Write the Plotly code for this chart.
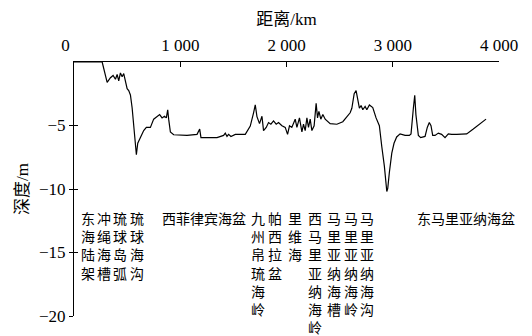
import plotly.graph_objects as go

# Seabed depth profile along the section (distance in km, depth in m)
dist_km = [0, 265, 312, 343, 368, 390, 406, 421, 437, 453, 468, 484, 500, 515, 531, 547, 562, 587,
           600, 625, 656, 681, 719, 750, 782, 806, 829, 851, 869, 882, 891, 907, 938, 1064, 1158,
           1183, 1195, 1252, 1346, 1408, 1424, 1440, 1455, 1477, 1518, 1612, 1659, 1690, 1706,
           1722, 1746, 1769, 1784, 1809, 1831, 1853, 1878, 1903, 1925, 1957, 1988, 2010, 2028,
           2050, 2082, 2098, 2122, 2145, 2160, 2176, 2192, 2207, 2223, 2239, 2260, 2279, 2292,
           2305, 2323, 2342, 2364, 2411, 2474, 2530, 2568, 2599, 2615, 2637, 2655, 2671, 2686,
           2702, 2718, 2740, 2756, 2780, 2812, 2843, 2874, 2897, 2921, 2944, 2953, 2968, 2991,
           3012, 3037, 3069, 3116, 3156, 3172, 3194, 3207, 3218, 3241, 3263, 3304, 3325, 3344,
           3360, 3376, 3398, 3429, 3460, 3492, 3523, 3554, 3602, 3696, 3758, 3821, 3878]
depth_m = [0, 0, -1.6, -1.24, -1.06, -1.36, -0.98, -1.49, -0.86, -1.16, -0.91, -1.6, -2.1, -2.25,
           -2.6, -3.6, -5.15, -7.3, -6.4, -5.9, -5.4, -5.15, -5.15, -4.5, -4.27, -4.14, -4.4,
           -4.27, -4.4, -3.76, -4.5, -5.5, -5.73, -5.78, -5.7, -5.28, -5.96, -5.96, -5.96, -5.78,
           -5.6, -5.86, -5.7, -5.86, -5.7, -5.7, -5.05, -4.0, -3.38, -4.3, -4.85, -4.27, -5.4,
           -5.15, -4.77, -4.9, -4.64, -4.9, -4.77, -5.02, -5.15, -5.7, -5.02, -5.15, -4.5, -5.15,
           -4.4, -5.5, -4.9, -5.4, -4.4, -5.15, -4.5, -5.4, -5.02, -3.26, -4.4, -3.89, -4.5,
           -4.14, -4.5, -4.85, -4.9, -4.7, -4.27, -4.0, -3.64, -2.5, -2.25, -2.88, -3.64, -3.43,
           -3.76, -3.5, -3.76, -3.38, -3.59, -4.4, -5.02, -6.67, -8.2, -10.2, -9.95, -8.7, -7.17,
           -6.4, -5.9, -5.66, -5.78, -5.78, -5.66, -3.64, -2.63, -4.14, -5.78, -5.96, -5.86,
           -5.15, -4.77, -5.02, -5.78, -5.78, -5.6, -5.7, -5.96, -5.66, -5.7, -5.7, -5.66, -5.28,
           -4.9, -4.5]

x_ticks = [0, 1000, 2000, 3000, 4000]
# the "0" label sits a little left of its tick, padded with no-break spaces
x_tick_text = ["0\u00a0\u00a0\u00a0\u00a0", "1 000", "2 000", "3 000", "4 000"]
y_ticks = [-20, -15, -10, -5]

# Feature names along the section; vertical names are stacked one character per line
feature_names = ["东海陆架", "冲绳海槽", "琉球岛弧", "琉球海沟", "西菲律宾海盆", "九州帛琉海岭",
                 "帕西拉盆", "里维海", "西马里亚纳海岭", "马里亚纳海槽", "马里亚纳海岭",
                 "马里亚纳海沟", "东马里亚纳海盆"]
feature_vertical = [True, True, True, True, False, True, True, True, True, True, True, True, False]
feature_km = [132, 282, 433, 593, 1219, 1732, 1892, 2080, 2268, 2447, 2607, 2758, 3694]

SERIF = "'Liberation Serif', 'DejaVu Serif', 'Noto Sans CJK SC', serif"
CJK = "'Noto Sans CJK SC'"

fig = go.Figure()
fig.add_trace(go.Scatter(x=dist_km, y=depth_m, mode="lines",
                         line=dict(color="black", width=1.2), hoverinfo="skip"))
# same series on a twin axis so the depth axis gets ticks on both sides of its line
fig.add_trace(go.Scatter(x=dist_km, y=depth_m, mode="lines", yaxis="y2", opacity=0,
                         line=dict(color="black", width=1), hoverinfo="skip"))

for name, vert, km in zip(feature_names, feature_vertical, feature_km):
    fig.add_annotation(x=km, y=-11.3, xref="x", yref="y",
                       text="<br>".join(name) if vert else name,
                       showarrow=False, xanchor="center", yanchor="top",
                       font=dict(family=CJK, size=14, color="black"), align="center")

fig.update_layout(
    width=532, height=336,
    margin=dict(l=74, r=33, t=62, b=10),
    paper_bgcolor="white", plot_bgcolor="white",
    showlegend=False,
    font=dict(family=SERIF, color="black"),
    xaxis=dict(side="top", range=[0, 4000], tickvals=x_ticks, ticktext=x_tick_text,
               ticks="inside", ticklen=5, tickcolor="black", tickwidth=1,
               ticklabelstandoff=3,
               showline=True, linecolor="black", linewidth=1, mirror=False,
               showgrid=False, zeroline=False,
               tickfont=dict(family=SERIF, size=17),
               title=dict(text="距离/km", font=dict(family=SERIF, size=17), standoff=6)),
    yaxis=dict(range=[-20, 0], tickvals=y_ticks, ticks="outside", ticklen=4,
               tickcolor="black", tickwidth=1, showline=True, linecolor="black",
               linewidth=1, showgrid=False, zeroline=False,
               tickfont=dict(family=SERIF, size=17),
               title=dict(text="深度/m", font=dict(family=SERIF, size=17), standoff=6)),
    yaxis2=dict(range=[-20, 0], overlaying="y", side="left", tickvals=y_ticks,
                ticks="inside", ticklen=4, tickcolor="black", tickwidth=1,
                showticklabels=False, showline=False, showgrid=False, zeroline=False),
)

fig.write_html("out.html")
